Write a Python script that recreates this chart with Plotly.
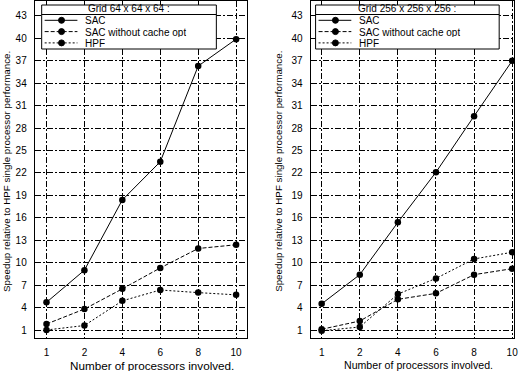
import plotly.graph_objects as go

W, H = 527, 371

# ---- data ----
procs = ["1", "2", "4", "6", "8", "10"]
series_names = ["SAC", "SAC without cache opt", "HPF"]
series_dash = ["solid", "4px,2px", "2px,2px"]

grid64_sac = [4.7, 9.0, 18.4, 23.5, 36.3, 39.9]
grid64_sac_nocache = [1.8, 3.8, 6.5, 9.3, 11.9, 12.4]
grid64_hpf = [1.0, 1.6, 4.9, 6.35, 6.0, 5.7]

grid256_sac = [4.5, 8.4, 15.4, 22.1, 29.6, 37.0]
grid256_sac_nocache = [1.1, 2.2, 5.1, 5.9, 8.4, 9.2]
grid256_hpf = [0.9, 1.4, 5.8, 7.9, 10.5, 11.4]

y_ticks = list(range(1, 44, 3))
panel_titles = ["Grid 64 x 64 x 64 :", "Grid 256 x 256 x 256 :"]
x_title = "Number of processors involved."
y_title = "Speedup relative to HPF single processor performance."

panels = [
    [grid64_sac, grid64_sac_nocache, grid64_hpf],
    [grid256_sac, grid256_sac_nocache, grid256_hpf],
]

FONT = "Liberation Sans, Arial, Helvetica, sans-serif"


def px(x):
    return x / W


def py(y):
    return 1 - y / H


fig = go.Figure()

for p, series in enumerate(panels):
    xa = "x" if p == 0 else "x2"
    ya = "y" if p == 0 else "y2"
    for vals, name, dash in zip(series, series_names, series_dash):
        fig.add_trace(go.Scatter(
            x=procs, y=vals, name=name, mode="lines+markers",
            xaxis=xa, yaxis=ya, showlegend=False,
            line=dict(color="black", width=1, dash=dash),
            marker=dict(symbol="circle", size=6.5, color="black"),
        ))

grid_dash = "6px,2px,2px,2px"
common_axis = dict(
    showline=True, mirror=True, linecolor="black", linewidth=1,
    showgrid=True, gridcolor="black", gridwidth=1, griddash=grid_dash,
    zeroline=False, ticks="outside", ticklen=5, tickcolor="rgba(0,0,0,0)",
    tickfont=dict(family=FONT, size=10, color="black"),
)

ydom = [py(338), py(1)]
fig.update_layout(
    width=W, height=H,
    margin=dict(l=0, r=0, t=0, b=0),
    paper_bgcolor="white", plot_bgcolor="white",
    showlegend=False,
    font=dict(family=FONT, color="black"),
    xaxis=dict(domain=[px(35), px(249)], type="category", range=[-0.31, 5.29],
               anchor="y", **common_axis),
    yaxis=dict(domain=ydom, range=[-0.07, 45], tickvals=y_ticks, anchor="x",
               **common_axis),
    xaxis2=dict(domain=[px(313), px(518)], type="category", range=[-0.29, 5.05],
                anchor="y2", **common_axis),
    yaxis2=dict(domain=ydom, range=[-0.07, 45], tickvals=y_ticks, anchor="x2",
                **common_axis),
)

shapes = []
annotations = []

# axis titles
xtitle_centers = [153, 421.5]
xtitle_sizes = [11.7, 10.6]
ytitle_centers = [7, 281]
for p in range(2):
    annotations.append(dict(
        x=px(xtitle_centers[p]), y=py(365), xref="paper", yref="paper",
        text=x_title, showarrow=False, xanchor="center", yanchor="middle",
        font=dict(family=FONT, size=xtitle_sizes[p], color="black"),
    ))
    annotations.append(dict(
        x=px(ytitle_centers[p]), y=py(171), xref="paper", yref="paper",
        text=y_title, showarrow=False, textangle=-90,
        xanchor="center", yanchor="middle",
        font=dict(family=FONT, size=9.8, color="black"),
    ))

# hand-built legends (compact, like the original)
legend_boxes = [(42, 218), (318, 503)]
box_top, sep_y, box_bottom = 5, 14.5, 49
title_y = 9
row_ys = [20.3, 31.6, 42.9]
for p, (bx0, bx1) in enumerate(legend_boxes):
    shapes.append(dict(type="rect", xref="paper", yref="paper",
                       x0=px(bx0), x1=px(bx1), y0=py(box_bottom), y1=py(box_top),
                       line=dict(color="black", width=1), fillcolor="white",
                       layer="above"))
    shapes.append(dict(type="line", xref="paper", yref="paper",
                       x0=px(bx0), x1=px(bx1), y0=py(sep_y), y1=py(sep_y),
                       line=dict(color="black", width=1), layer="above"))
    annotations.append(dict(
        x=px((bx0 + bx1) / 2), y=py(title_y), xref="paper", yref="paper",
        text=panel_titles[p], showarrow=False, xanchor="center", yanchor="middle",
        height=9, borderpad=0,
        font=dict(family=FONT, size=10, color="black"),
    ))
    for name, dash, ry in zip(series_names, series_dash, row_ys):
        shapes.append(dict(type="line", xref="paper", yref="paper",
                           x0=px(bx0 + 3), x1=px(bx0 + 36), y0=py(ry), y1=py(ry),
                           line=dict(color="black", width=1, dash=dash),
                           layer="above"))
        mx = bx0 + 20
        shapes.append(dict(type="circle", xref="paper", yref="paper",
                           x0=px(mx - 3), x1=px(mx + 3), y0=py(ry + 3), y1=py(ry - 3),
                           line=dict(color="black", width=1), fillcolor="black",
                           layer="above"))
        annotations.append(dict(
            x=px(bx0 + 43), y=py(ry), xref="paper", yref="paper",
            text=name, showarrow=False, xanchor="left", yanchor="middle",
            height=10, borderpad=0,
            font=dict(family=FONT, size=10, color="black"),
        ))

fig.update_layout(shapes=shapes, annotations=annotations)
fig.write_html(
    "out.html",
    config={"displayModeBar": False},
    post_script="document.body.style.margin='0px';document.body.style.overflow='hidden';",
)
